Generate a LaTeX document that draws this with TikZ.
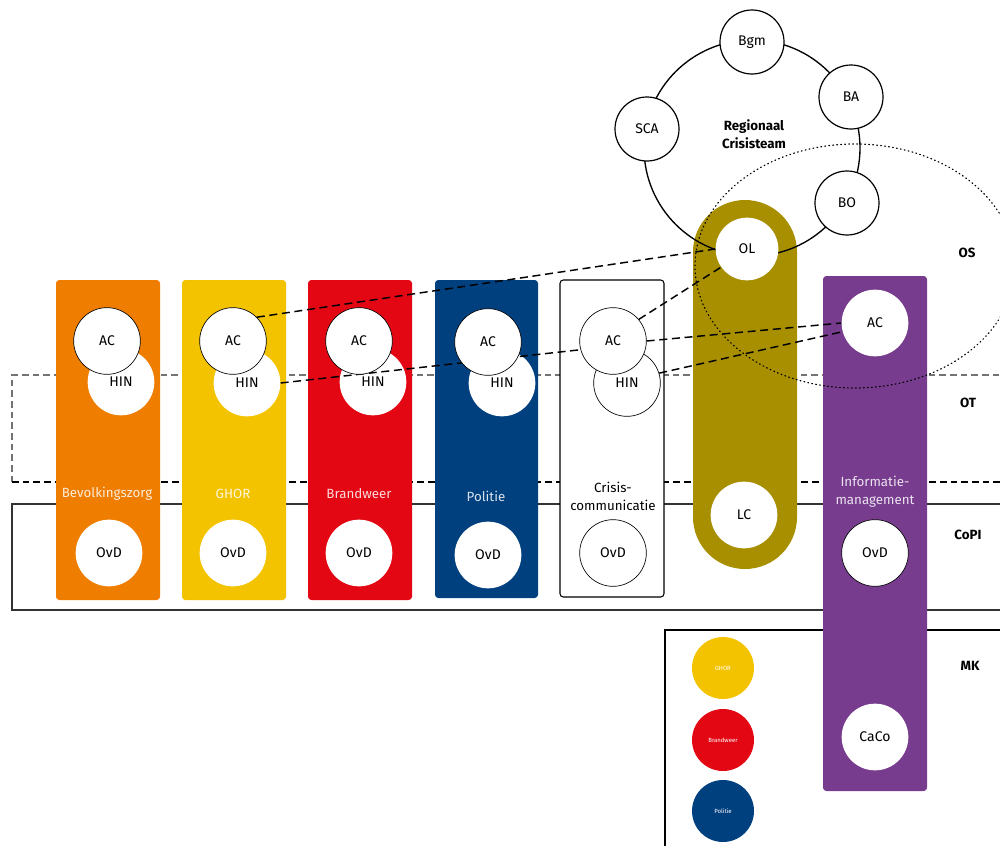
\documentclass[tikz,border=0pt]{standalone}
\usepackage{fontspec}
\setmainfont{Fira Sans}
\definecolor{cOrange}{HTML}{EE7D00}
\definecolor{cYellow}{HTML}{F4C300}
\definecolor{cRed}{HTML}{E30613}
\definecolor{cBlue}{HTML}{00407F}
\definecolor{cOlive}{HTML}{A88F00}
\definecolor{cPurple}{HTML}{773C8E}
\pgfdeclarelayer{back}
\pgfdeclarelayer{mid}
\pgfsetlayers{back,mid,main}
\begin{document}
\begin{tikzpicture}[x=0.75pt,y=-0.75pt,
  font=\fontsize{10.5}{12}\selectfont,
  col/.style={rounded corners=2.5pt},
  wc/.style={circle, fill=white, minimum size=50pt, inner sep=0pt},
  oc/.style={wc, draw=black, line width=0.5pt},
  rc/.style={circle, fill=white, draw=black, line width=0.9pt, minimum size=48pt, inner sep=0pt},
  mkc/.style={circle, minimum size=46.5pt, inner sep=0pt, text=white, font=\fontsize{4.5}{5}\selectfont},
  collbl/.style={text=white, text opacity=0.85, align=center, font=\fontsize{10}{13.5}\selectfont},
  lvl/.style={font=\fontsize{10}{12}\selectfont\bfseries},
  conn/.style={draw=black, line width=1.1pt, dash pattern=on 6pt off 3.5pt}
]
\useasboundingbox (0,0) rectangle (1000,846);
\clip (0,0) rectangle (1000,846);

\begin{pgfonlayer}{back}
% level frames
\draw[black!55, line width=0.8pt, dash pattern=on 5pt off 3pt] (1010,375) -- (12,375) -- (12,482);
\draw[black, line width=1.1pt, dash pattern=on 5pt off 3pt] (12,482) -- (1010,482);
\draw[black!80, line width=0.9pt] (1010,504) -- (12,504) -- (12,610) -- (1010,610);
\draw[black, line width=0.9pt] (665,860) -- (665,630) -- (1010,630);

% columns
\fill[col, cOrange] (56,280) rectangle (160,600);
\fill[col, cYellow] (182,280) rectangle (286,600);
\fill[col, cRed] (308,280) rectangle (412,600);
\fill[col, cBlue] (435,280) rectangle (538,598);
\filldraw[col, fill=white, draw=black, line width=0.8pt] (560,280) rectangle (664,597);
\fill[cOlive, rounded corners=39pt] (693,200) rectangle (797,569);
\fill[col, cPurple] (823,276) rectangle (927,791);

% column labels
\node[collbl] (lBZ) at (107,494) {Bevolkingszorg};
\node[collbl] (lGH) at (233,494) {GHOR};
\node[collbl] (lBW) at (359,494) {Brandweer};
\node[collbl] (lPO) at (486,496) {Politie};
\node[collbl, text=black, text opacity=1] (lCC) at (613,496) {Crisis-\\communicatie};
\node[collbl] (lIM) at (875,492) {Informatie-\\management};

% regional crisis team ring
\draw[black, line width=1pt] (752,148) circle[radius=81pt];
\node[font=\fontsize{10}{13.5}\selectfont\bfseries, align=center] (rct) at (754,134) {Regionaal\\Crisisteam};

% OS ellipse
\draw[black, line width=0.9pt, dash pattern=on 0.6pt off 2.4pt, line cap=round] (855,266) ellipse[x radius=120pt, y radius=91.5pt];

% level labels
\node[lvl] (lOS) at (967,253) {OS};
\node[lvl] (lOT) at (968,403) {OT};
\node[lvl] (lCoPI) at (968,535) {CoPI};
\node[lvl] (lMK) at (970,666) {MK};

% lower circles
\node[wc] (bzHIN) at (121,382) {HIN};
\node[wc] (ghHIN) at (247,383) {HIN};
\node[wc] (bwHIN) at (373,382) {HIN};
\node[wc] (poHIN) at (502,383) {HIN};
\node[oc] (ccHIN) at (627,383) {HIN};

\node[wc] (bzOvD) at (109,553) {OvD};
\node[wc] (ghOvD) at (233,553) {OvD};
\node[wc] (bwOvD) at (359,553) {OvD};
\node[wc] (poOvD) at (488,555) {OvD};
\node[oc] (ccOvD) at (613,553) {OvD};
\node[oc] (imOvD) at (875,553) {OvD};
\node[wc] (LC) at (744,515) {LC};
\node[wc] (CaCo) at (875,737) {CaCo};

\node[mkc, fill=cYellow] (mkGH) at (723,668) {GHOR};
\node[mkc, fill=cRed] (mkBW) at (723,740) {Brandweer};
\node[mkc, fill=cBlue] (mkPO) at (723,811) {Politie};
\end{pgfonlayer}

% ring members and AC circles (on top)
\node[rc] (Bgm) at (752,42) {Bgm};
\node[rc] (BA) at (851,97) {BA};
\node[rc] (SCA) at (647,129) {SCA};
\node[rc] (BO) at (847,203) {BO};
\node[circle, fill=white, minimum size=47pt, inner sep=0pt] (OL) at (747,249) {OL};

\node[oc] (bzAC) at (107,341) {AC};
\node[oc] (ghAC) at (233,341) {AC};
\node[oc] (bwAC) at (359,341) {AC};
\node[oc] (poAC) at (488,342) {AC};
\node[oc] (ccAC) at (613,341) {AC};
\node[wc] (imAC) at (875,323) {AC};

% connectors (between the lower circles and the AC circles)
\begin{pgfonlayer}{mid}
\draw[conn] (ghAC.45) -- (OL.west);
\draw[conn] (ghHIN.east) -- (ccAC.195);
\draw[conn] (ccAC.40) -- (OL.215);
\draw[conn] (ccAC.east) -- (imAC.west);
\draw[conn] (ccHIN.17) -- (imAC.195);
\end{pgfonlayer}
\end{tikzpicture}
\end{document}
